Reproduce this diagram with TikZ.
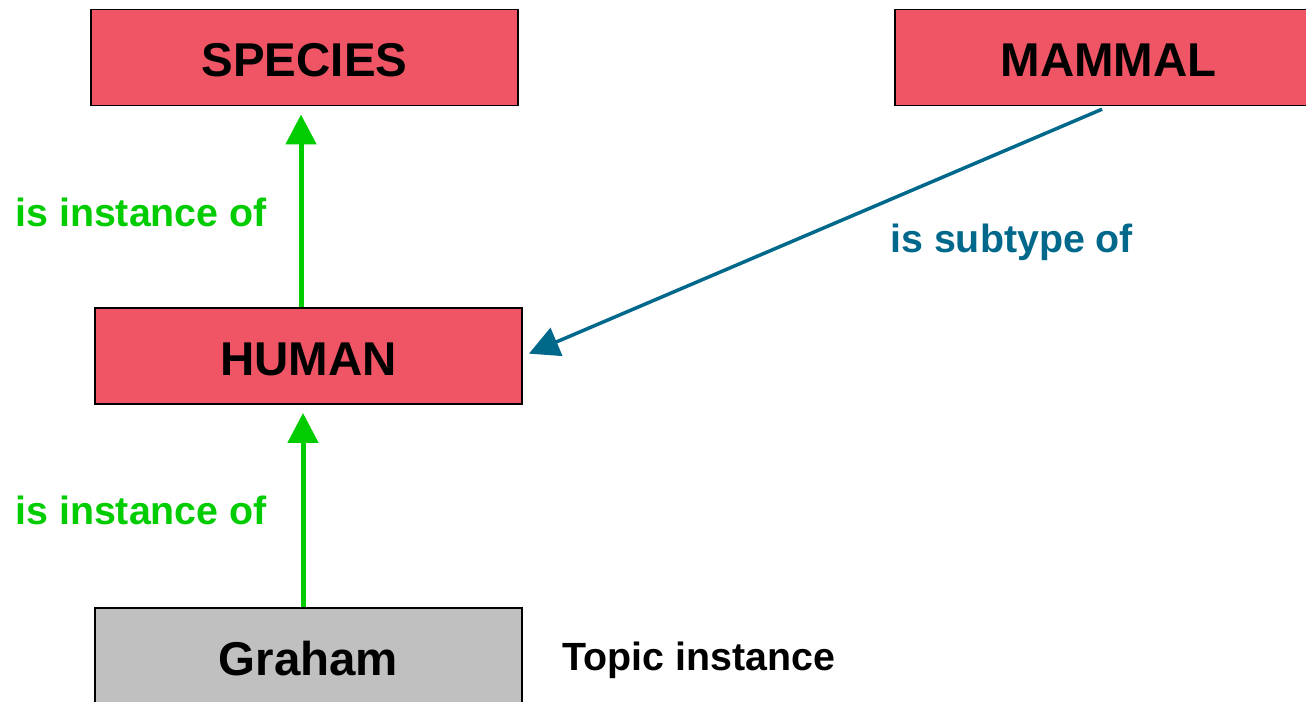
\documentclass[tikz,border=0pt]{standalone}
\usepackage{fontspec}
\setmainfont{Liberation Sans}
\usepackage{tikz}
\usetikzlibrary{arrows.meta}
\definecolor{topicred}{RGB}{240,85,101}
\definecolor{instgreen}{RGB}{0,204,0}
\definecolor{subblue}{RGB}{0,104,139}
\definecolor{topicgray}{RGB}{192,192,192}

\begin{document}
\begin{tikzpicture}[x=0.02cm,y=-0.02cm]
		\tikzstyle{topic}=[rectangle,draw=black,line width=1.1pt,fill=topicred,minimum width=8.56cm,minimum height=1.92cm,text height=0.78cm,text depth=0cm,font=\fontsize{27}{32}\selectfont\bfseries]
		\tikzstyle{inst}=[instgreen,line width=0.1cm,-{Triangle[length=0.6cm,width=0.6cm]}]
		\tikzstyle{lbl}=[anchor=west,inner sep=0pt,font=\fontsize{22.4}{26}\selectfont\bfseries]
		\useasboundingbox (0,0) rectangle (1306,702);
		\clip (0,0) rectangle (1306,702);
		\node[topic] (species) at (304.5,57.5) {SPECIES};
		\node[topic] (mammal) at (1108.5,57.5) {MAMMAL};
		\node[topic] (human) at (308.5,356) {HUMAN};
		\node[topic,fill=topicgray] (graham) at (308.5,656) {Graham};
		\draw[inst,shorten >=0.16cm] (human.north -| 301,0) -- (species.south -| 301,0);
		\draw[inst,shorten >=0.16cm] (graham.north -| 303,0) -- (human.south -| 303,0);
		\draw[subblue,line width=0.07cm,-{Triangle[length=0.6cm,width=0.6cm]},shorten <=0.14cm,shorten >=0.12cm] (mammal.south) -- (human.east);
		\node[lbl,instgreen] (inst1) at (15,212) {is instance of};
		\node[lbl,instgreen] (inst2) at (15,510) {is instance of};
		\node[lbl,subblue] (sub) at (890,242) {is subtype of};
		\node[lbl,black] (note) at (562,660) {Topic instance};
	\end{tikzpicture}
\end{document}
